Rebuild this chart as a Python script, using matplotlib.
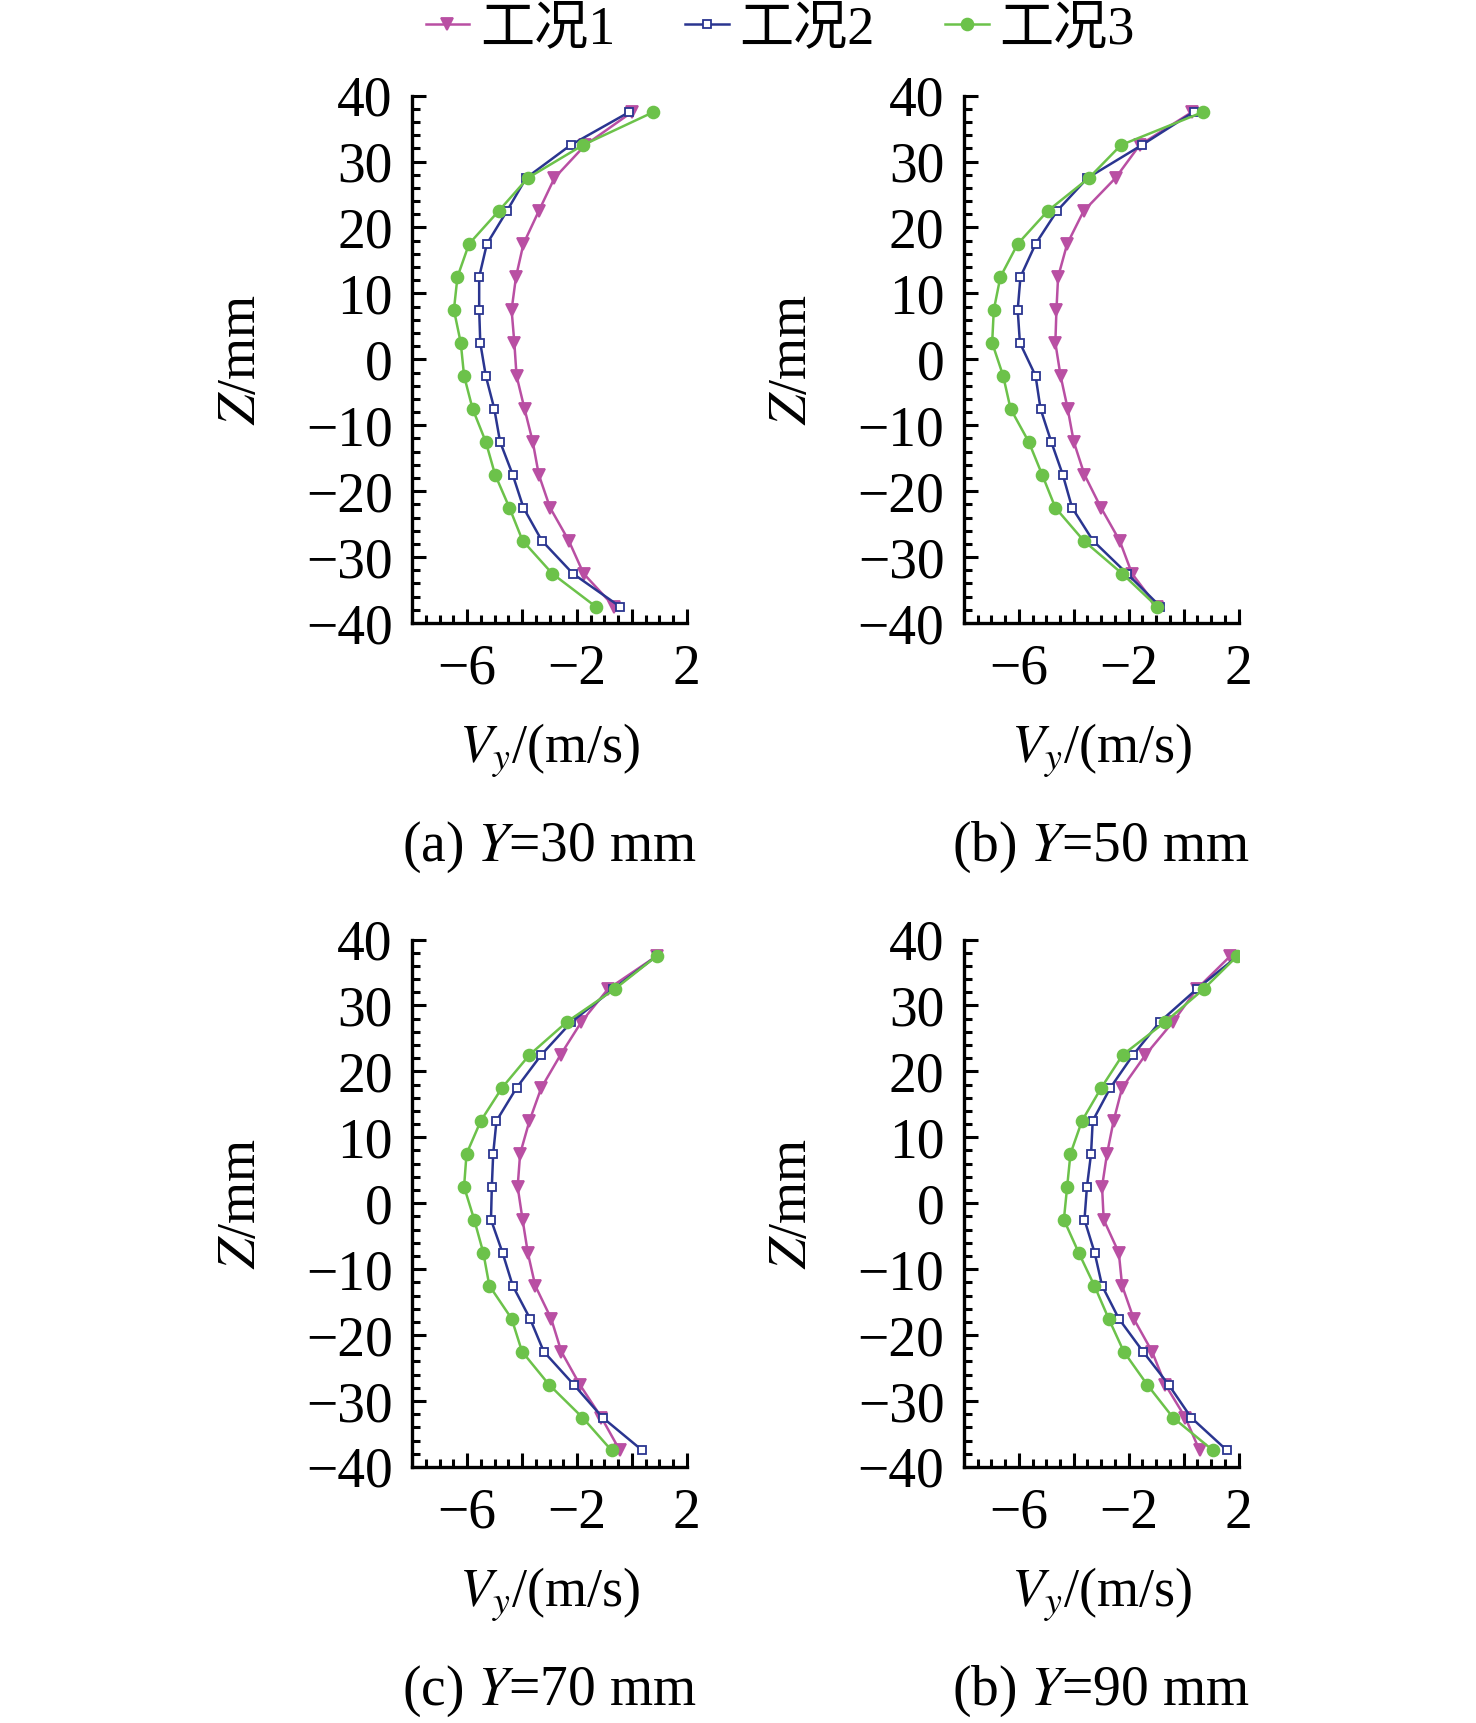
import matplotlib
matplotlib.use("Agg")
import matplotlib.pyplot as plt
from matplotlib.ticker import MultipleLocator

plt.rcParams["font.family"] = ["Liberation Serif", "Noto Sans CJK SC"]
plt.rcParams["mathtext.fontset"] = "stix"
plt.rcParams["axes.unicode_minus"] = True

# Z positions of the measuring points (mm)
z = [37.5, 32.5, 27.5, 22.5, 17.5, 12.5, 7.5, 2.5,
     -2.5, -7.5, -12.5, -17.5, -22.5, -27.5, -32.5, -37.5]

series_names = ["工况1", "工况2", "工况3"]
captions = [r"(a) $Y$=30 mm", r"(b) $Y$=50 mm", r"(c) $Y$=70 mm", r"(b) $Y$=90 mm"]

# Vy (m/s), one list per case and panel
# panel a: Y=30 mm
a_case1 = [0.0, -1.7, -2.82, -3.39, -3.95, -4.22, -4.38, -4.28,
           -4.2, -3.91, -3.61, -3.39, -2.98, -2.3, -1.76, -0.65]
a_case2 = [-0.1, -2.23, -3.85, -4.55, -5.28, -5.56, -5.56, -5.52,
           -5.32, -5.01, -4.8, -4.34, -3.95, -3.28, -2.15, -0.44]
a_case3 = [0.78, -1.78, -3.79, -4.85, -5.93, -6.35, -6.48, -6.23,
           -6.11, -5.8, -5.32, -4.98, -4.46, -3.98, -2.9, -1.32]
# panel b: Y=50 mm
b_case1 = [0.3, -1.6, -2.48, -3.64, -4.24, -4.57, -4.63, -4.67,
           -4.48, -4.22, -4.0, -3.61, -3.01, -2.33, -1.88, -0.97]
b_case2 = [0.36, -1.52, -3.5, -4.61, -5.39, -5.94, -6.04, -5.96,
           -5.39, -5.21, -4.82, -4.4, -4.06, -3.3, -2.06, -0.85]
b_case3 = [0.7, -2.28, -3.45, -4.95, -6.04, -6.67, -6.91, -6.97,
           -6.57, -6.3, -5.64, -5.15, -4.67, -3.64, -2.24, -0.97]
# panel c: Y=70 mm
c_case1 = [0.9, -0.87, -1.84, -2.6, -3.3, -3.73, -4.07, -4.16,
           -3.98, -3.79, -3.52, -2.94, -2.57, -1.9, -1.11, -0.44]
c_case2 = [0.9, -0.68, -2.2, -3.3, -4.2, -4.93, -5.05, -5.1,
           -5.13, -4.71, -4.34, -3.71, -3.21, -2.12, -1.07, 0.38]
c_case3 = [0.9, -0.62, -2.37, -3.73, -4.73, -5.5, -6.02, -6.11,
           -5.74, -5.41, -5.19, -4.38, -4.0, -3.02, -1.8, -0.74]
# panel d: Y=90 mm
d_case1 = [1.7, 0.48, -0.39, -1.39, -2.24, -2.55, -2.79, -2.97,
           -2.91, -2.36, -2.24, -1.82, -1.15, -0.67, 0.06, 0.58]
d_case2 = [1.97, 0.48, -0.87, -1.84, -2.67, -3.31, -3.37, -3.52,
           -3.61, -3.24, -2.97, -2.36, -1.48, -0.55, 0.27, 1.58]
d_case3 = [1.95, 0.73, -0.67, -2.22, -3.0, -3.7, -4.12, -4.24,
           -4.36, -3.82, -3.25, -2.73, -2.18, -1.33, -0.39, 1.07]

panels = [
    [a_case1, a_case2, a_case3],
    [b_case1, b_case2, b_case3],
    [c_case1, c_case2, c_case3],
    [d_case1, d_case2, d_case3],
]

colors = ["#b94fa3", "#2a3590", "#6cc24a"]
markers = ["v", "s", "o"]
msizes = [9, 5.5, 8.5]
faces = ["#b94fa3", "white", "#6cc24a"]

fig = plt.figure(figsize=(14.76, 17.23), dpi=100)

# layout measured on a 0.91 scaled view of the reference
W, H = 1343.0, 1568.0
lefts = [375, 877, 375, 877]
tops = [87, 87, 855, 855]
aw, ah = 250, 480

lines = []
for k in range(4):
    ax = fig.add_axes([lefts[k] / W, 1 - (tops[k] + ah) / H, aw / W, ah / H])
    for i in range(3):
        (ln,) = ax.plot(panels[k][i], z, color=colors[i], lw=1.8,
                        marker=markers[i], ms=msizes[i], mfc=faces[i],
                        mec=colors[i], mew=1.3, label=series_names[i])
        if k == 0:
            lines.append(ln)

    ax.set_xlim(-8, 2)
    ax.set_ylim(-40, 40)
    ax.set_xticks([-8, -6, -4, -2, 0, 2])
    ax.set_xticklabels(["", "−6", "", "−2", "", "2"])
    ax.set_yticks(range(-40, 41, 10))
    ax.xaxis.set_minor_locator(MultipleLocator(0.5))
    ax.yaxis.set_minor_locator(MultipleLocator(2))
    ax.tick_params(which="both", direction="in", width=2.2, labelsize=40,
                   top=False, right=False)
    ax.tick_params(which="major", length=10)
    ax.tick_params(which="minor", length=6)
    ax.tick_params(axis="y", pad=14)
    ax.tick_params(axis="x", pad=15)
    for side in ["top", "right"]:
        ax.spines[side].set_visible(False)
    for side in ["left", "bottom"]:
        ax.spines[side].set_linewidth(2.4)

    ax.set_ylabel(r"$Z$/mm", fontsize=39)
    ax.yaxis.set_label_coords(-0.53, 0.5)
    ax.set_xlabel(r"$V_y$/(m/s)", fontsize=39)
    ax.xaxis.set_label_coords(0.5, -0.186)
    ax.text(0.5, -0.425, captions[k], transform=ax.transAxes,
            ha="center", va="center", fontsize=40)

fig.legend(handles=lines, loc="center", bbox_to_anchor=(710 / W, 1 - 27 / H),
           ncol=3, frameon=False, handlelength=0.8,
           handletextpad=0.2, columnspacing=1.3, borderaxespad=0,
           prop={"family": ["Liberation Serif", "Noto Sans CJK SC"], "size": 39})

fig.savefig("out.png", dpi=100)
